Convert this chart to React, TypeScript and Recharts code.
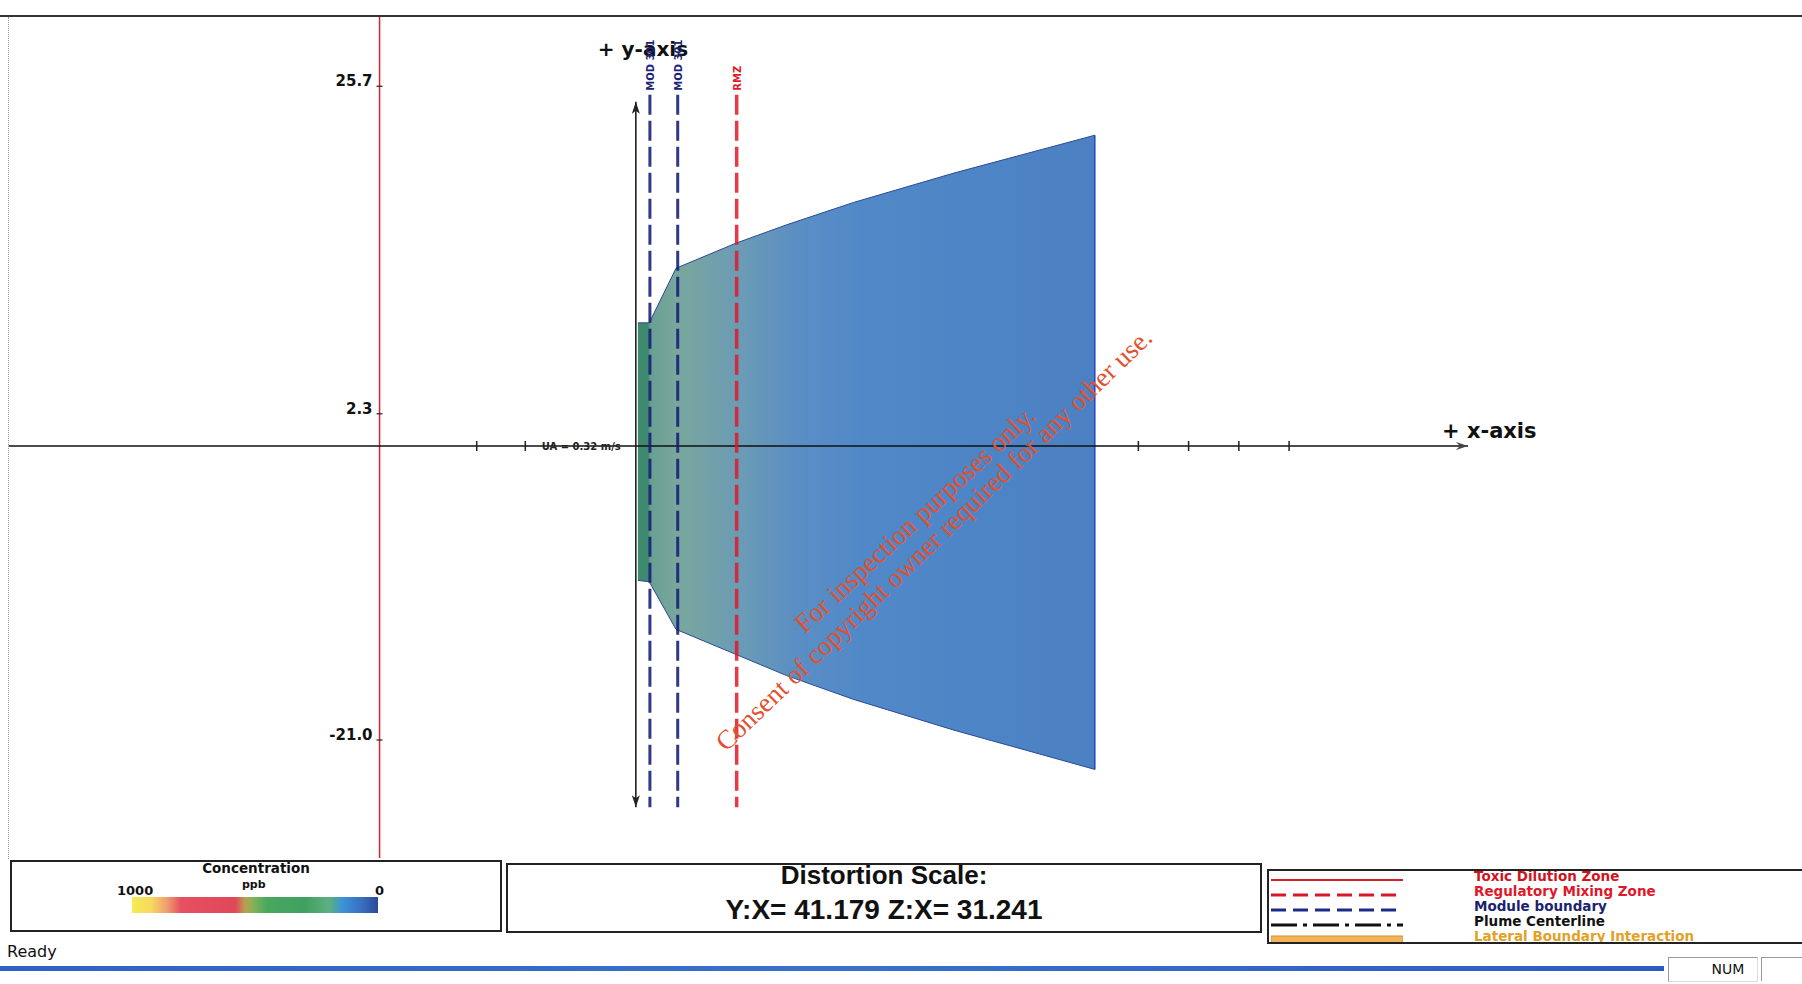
import React from 'react';
import { ComposedChart, Area, XAxis, YAxis, ReferenceLine, ReferenceDot } from 'recharts';

// plume outline: metres downstream (x) and metres across (y)
const plumeX = [6, 40, 120, 300, 450, 650, 950, 1370];
const plumeTop = [8.8, 8.8, 12.7, 14.5, 15.8, 17.4, 19.5, 22.2];
const plumeBottom = [-9.6, -9.7, -13.1, -14.9, -16.4, -18.1, -20.3, -23.1];

const xTicks = [-475, -330, 1500, 1650, 1800, 1950];
const yTicks = [25.7, 2.3, -21.0];

const tdzX = -765;
const tdzTop = 30.7;
const modX = [42, 125];
const modLabel = 'MOD 301';
const rmzX = 301;
const rmzLabel = 'RMZ';
const boundaryTop = 25.1;
const boundaryBottom = -25.8;

const xAxisStart = -1872;
const xAxisEnd = 2484;
const yAxisTop = 24.6;
const yAxisBottom = -25.8;
const uaX = -281;
const uaText = 'UA = 0.32 m/s';

const xDomain = [-1898, 3481];
const yDomain = [-29.43, 31.86];

const legendRows = [
  { label: 'Toxic Dilution Zone', color: '#d0141e', kind: 'tdz' },
  { label: 'Regulatory Mixing Zone', color: '#e0182a', kind: 'rmz' },
  { label: 'Module boundary', color: '#1a2370', kind: 'mod' },
  { label: 'Plume Centerline', color: '#111111', kind: 'center' },
  { label: 'Lateral Boundary Interaction', color: '#e2a126', kind: 'lateral' },
];

const plumeData = plumeX.map((x, i) => ({ x, band: [plumeBottom[i], plumeTop[i]] }));

const FONT = '"DejaVu Sans", Verdana, sans-serif';

const LegendLine = ({ kind }: { kind: string }) => {
  if (kind === 'lateral') {
    return (
      <svg width={132} height={10}>
        <rect x={0} y={1} width={132} height={8} fill="#f2b35a" stroke="#d8902e" strokeWidth={1} />
      </svg>
    );
  }
  const styles: Record<string, { stroke: string; dash?: string; w: number }> = {
    tdz: { stroke: '#d8202c', w: 2 },
    rmz: { stroke: '#d8182a', dash: '15 7', w: 3 },
    mod: { stroke: '#1c2a88', dash: '15 7', w: 3 },
    center: { stroke: '#111', dash: '26 6 4 6', w: 3 },
  };
  const s = styles[kind];
  return (
    <svg width={132} height={10}>
      <line x1={0} x2={132} y1={5} y2={5} stroke={s.stroke} strokeWidth={s.w} strokeDasharray={s.dash} />
    </svg>
  );
};

export default function App() {
  return (
    <div style={{ position: 'absolute', left: 0, top: 0, width: 1802, height: 984, background: '#fff', overflow: 'hidden' }}>
      <div style={{ position: 'absolute', left: 0, top: 0 }}>
        <ComposedChart width={1802} height={858} data={plumeData} margin={{ top: 0, right: 0, bottom: 0, left: 0 }}>
          <defs>
            <linearGradient id="plumeFill" x1="0" y1="0" x2="1" y2="0">
              <stop offset="0" stopColor="#3e8a6e" />
              <stop offset="0.022" stopColor="#3e8a6e" />
              <stop offset="0.028" stopColor="#6a9f92" />
              <stop offset="0.087" stopColor="#79a79d" />
              <stop offset="0.216" stopColor="#6c9cb4" />
              <stop offset="0.35" stopColor="#5a8ec4" />
              <stop offset="0.5" stopColor="#5088c8" />
              <stop offset="1" stopColor="#4b81c3" />
            </linearGradient>
          </defs>
          <XAxis dataKey="x" type="number" domain={xDomain} allowDataOverflow hide />
          <YAxis type="number" domain={yDomain} allowDataOverflow hide />

          <Area
            dataKey="band"
            type="linear"
            stroke="#2b4a95"
            strokeWidth={1}
            fill="url(#plumeFill)"
            fillOpacity={1}
            isAnimationActive={false}
            dot={false}
            activeDot={false}
          />
          <ReferenceLine
            segment={[{ x: plumeX[plumeX.length - 1], y: plumeBottom[plumeBottom.length - 1] }, { x: plumeX[plumeX.length - 1], y: plumeTop[plumeTop.length - 1] }]}
            stroke="#2545c0"
            strokeWidth={1.5}
            ifOverflow="visible"
          />

          {/* toxic dilution zone line with the y ticks */}
          <ReferenceLine segment={[{ x: tdzX, y: tdzTop }, { x: tdzX, y: yDomain[0] }]} stroke="#d42030" strokeWidth={1.5} ifOverflow="visible" />
          {yTicks.map((v) => (
            <ReferenceDot
              key={'yt' + v}
              x={tdzX}
              y={v}
              ifOverflow="visible"
              shape={(p: any) => (
                <g>
                  <line x1={p.cx - 3} x2={p.cx + 3} y1={p.cy} y2={p.cy} stroke="#222" strokeWidth={1.2} />
                  <text x={p.cx - 7} y={p.cy} textAnchor="end" fontFamily={FONT} fontWeight="bold" fontSize={15} fill="#111">
                    {v.toFixed(1)}
                  </text>
                </g>
              )}
            />
          ))}

          {/* x axis */}
          <ReferenceLine segment={[{ x: xAxisStart, y: 0 }, { x: xAxisEnd, y: 0 }]} stroke="#111" strokeWidth={1.5} ifOverflow="visible" />
          {xTicks.map((v) => (
            <ReferenceDot
              key={'xt' + v}
              x={v}
              y={0}
              ifOverflow="visible"
              shape={(p: any) => <line x1={p.cx} x2={p.cx} y1={p.cy - 5} y2={p.cy + 5} stroke="#222" strokeWidth={1.5} />}
            />
          ))}
          <ReferenceDot
            x={xAxisEnd}
            y={0}
            ifOverflow="visible"
            shape={(p: any) => (
              <g>
                <path d={`M${p.cx},${p.cy} L${p.cx - 12},${p.cy - 4} L${p.cx - 8},${p.cy} L${p.cx - 12},${p.cy + 4} Z`} fill="#444" />
                <text x={p.cx - 26} y={p.cy - 8} fontFamily={FONT} fontWeight="bold" fontSize={21} fill="#111">+ x-axis</text>
              </g>
            )}
          />
          <ReferenceDot
            x={uaX}
            y={0}
            ifOverflow="visible"
            shape={(p: any) => (
              <text x={p.cx} y={p.cy + 4} fontFamily={FONT} fontWeight="bold" fontSize={10} fill="#222">{uaText}</text>
            )}
          />

          {/* y axis */}
          <ReferenceLine segment={[{ x: 0, y: yAxisTop }, { x: 0, y: yAxisBottom }]} stroke="#111" strokeWidth={1.5} ifOverflow="visible" />
          <ReferenceDot
            x={0}
            y={yAxisTop}
            ifOverflow="visible"
            shape={(p: any) => (
              <g>
                <path d={`M${p.cx},${p.cy} L${p.cx - 4},${p.cy + 12} L${p.cx},${p.cy + 9} L${p.cx + 4},${p.cy + 12} Z`} fill="#222" />
                <text x={p.cx - 38} y={p.cy - 46} fontFamily={FONT} fontWeight="bold" fontSize={20} fill="#111">+ y-axis</text>
              </g>
            )}
          />
          <ReferenceDot
            x={0}
            y={yAxisBottom}
            ifOverflow="visible"
            shape={(p: any) => (
              <path d={`M${p.cx},${p.cy} L${p.cx - 4},${p.cy - 12} L${p.cx},${p.cy - 9} L${p.cx + 4},${p.cy - 12} Z`} fill="#222" />
            )}
          />

          {/* module boundaries and regulatory mixing zone */}
          {modX.map((x) => (
            <ReferenceLine
              key={'mod' + x}
              segment={[{ x, y: boundaryTop }, { x, y: boundaryBottom }]}
              stroke="#161c78"
              strokeOpacity={0.88}
              strokeWidth={3}
              strokeDasharray="20 6"
              ifOverflow="visible"
            />
          ))}
          {modX.map((x) => (
            <ReferenceDot
              key={'modl' + x}
              x={x}
              y={boundaryTop}
              ifOverflow="visible"
              shape={(p: any) => (
                <text
                  x={p.cx + 4}
                  y={p.cy - 4}
                  transform={`rotate(-90 ${p.cx + 4} ${p.cy - 4})`}
                  fontFamily={FONT}
                  fontWeight="bold"
                  fontSize={10}
                  fill="#1a2378"
                >
                  {modLabel}
                </text>
              )}
            />
          ))}
          <ReferenceLine
            segment={[{ x: rmzX, y: boundaryTop }, { x: rmzX, y: boundaryBottom }]}
            stroke="#e01828"
            strokeOpacity={0.85}
            strokeWidth={3.5}
            strokeDasharray="20 6"
            ifOverflow="visible"
          />
          <ReferenceDot
            x={rmzX}
            y={boundaryTop}
            ifOverflow="visible"
            shape={(p: any) => (
              <text
                x={p.cx + 4}
                y={p.cy - 4}
                transform={`rotate(-90 ${p.cx + 4} ${p.cy - 4})`}
                fontFamily={FONT}
                fontWeight="bold"
                fontSize={10}
                fill="#e01828"
              >
                {rmzLabel}
              </text>
            )}
          />
        </ComposedChart>
      </div>

      {/* frame lines */}
      <div style={{ position: 'absolute', left: 0, top: 15, width: 1802, height: 2, background: '#333' }} />
      <div style={{ position: 'absolute', left: 8, top: 17, width: 0, height: 842, borderLeft: '1px dotted #999' }} />

      {/* watermark */}
      <svg width={1802} height={858} style={{ position: 'absolute', left: 0, top: 0, pointerEvents: 'none' }}>
        <g fontFamily='"Liberation Serif", "Times New Roman", serif' fontSize={27} fill="#e2512f" textAnchor="middle">
          <text x={921} y={526} transform="rotate(-43 921 526)">For inspection purposes only.</text>
          <text x={940} y={546} transform="rotate(-44 940 546)">Consent of copyright owner required for any other use.</text>
        </g>
      </svg>

      {/* concentration scale */}
      <div style={{ position: 'absolute', left: 10, top: 860, width: 488, height: 68, border: '2px solid #222', fontFamily: FONT, fontWeight: 'bold', color: '#111' }}>
        <div style={{ position: 'absolute', left: 0, width: 488, top: -2, textAlign: 'center', fontSize: 13.5 }}>Concentration</div>
        <div style={{ position: 'absolute', left: 230, top: 16, fontSize: 11 }}>ppb</div>
        <div style={{ position: 'absolute', left: 105, top: 21, fontSize: 13 }}>1000</div>
        <div style={{ position: 'absolute', left: 363, top: 21, fontSize: 13 }}>0</div>
        <div
          style={{
            position: 'absolute',
            left: 120,
            top: 35,
            width: 246,
            height: 16,
            background:
              'linear-gradient(to right, #f7ec50 0%, #f6d860 8%, #f0a070 14%, #e65060 20%, #e04858 42%, #b8a050 46%, #88b058 49%, #48a860 55%, #40a060 70%, #5cb080 80%, #3a90d8 86%, #3a70c0 93%, #2d4a98 100%)',
          }}
        />
      </div>

      {/* distortion scale */}
      <div style={{ position: 'absolute', left: 506, top: 863, width: 752, height: 66, border: '2px solid #222', fontFamily: '"Liberation Sans", Arial, sans-serif', fontWeight: 'bold', color: '#111', textAlign: 'center' }}>
        <div style={{ position: 'absolute', left: 0, width: 752, top: -5, fontSize: 26 }}>Distortion Scale:</div>
        <div style={{ position: 'absolute', left: 0, width: 752, top: 29, fontSize: 28 }}>Y:X= 41.179 Z:X= 31.241</div>
      </div>

      {/* line legend */}
      <div style={{ position: 'absolute', left: 1267, top: 869, width: 540, height: 71, border: '2px solid #222', overflow: 'hidden', fontFamily: FONT, fontWeight: 'bold', fontSize: 13.5 }}>
        {legendRows.map((r, i) => (
          <React.Fragment key={r.label}>
            <div style={{ position: 'absolute', left: 2, top: 1 + i * 15 }}>
              <LegendLine kind={r.kind} />
            </div>
            <div style={{ position: 'absolute', left: 205, top: -2 + i * 15, color: r.color, lineHeight: '15px', whiteSpace: 'nowrap' }}>{r.label}</div>
          </React.Fragment>
        ))}
      </div>

      {/* status bar */}
      <div style={{ position: 'absolute', left: 7, top: 942, fontFamily: FONT, fontSize: 16, color: '#111' }}>Ready</div>
      <div style={{ position: 'absolute', left: 0, top: 966, width: 1664, height: 5, background: 'linear-gradient(to right, #2f62c4, #3a70cc 50%, #2d5cc0)' }} />
      <div style={{ position: 'absolute', left: 1668, top: 957, width: 88, height: 23, borderTop: '1px solid #999', borderLeft: '1px solid #999', borderRight: '1px solid #ddd', borderBottom: '1px solid #ddd', fontFamily: FONT, fontSize: 14, color: '#111', textAlign: 'center', lineHeight: '23px' }}>
        <span style={{ marginLeft: 30 }}>NUM</span>
      </div>
      <div style={{ position: 'absolute', left: 1761, top: 957, width: 41, height: 23, borderTop: '1px solid #999', borderLeft: '1px solid #999' }} />
    </div>
  );
}
